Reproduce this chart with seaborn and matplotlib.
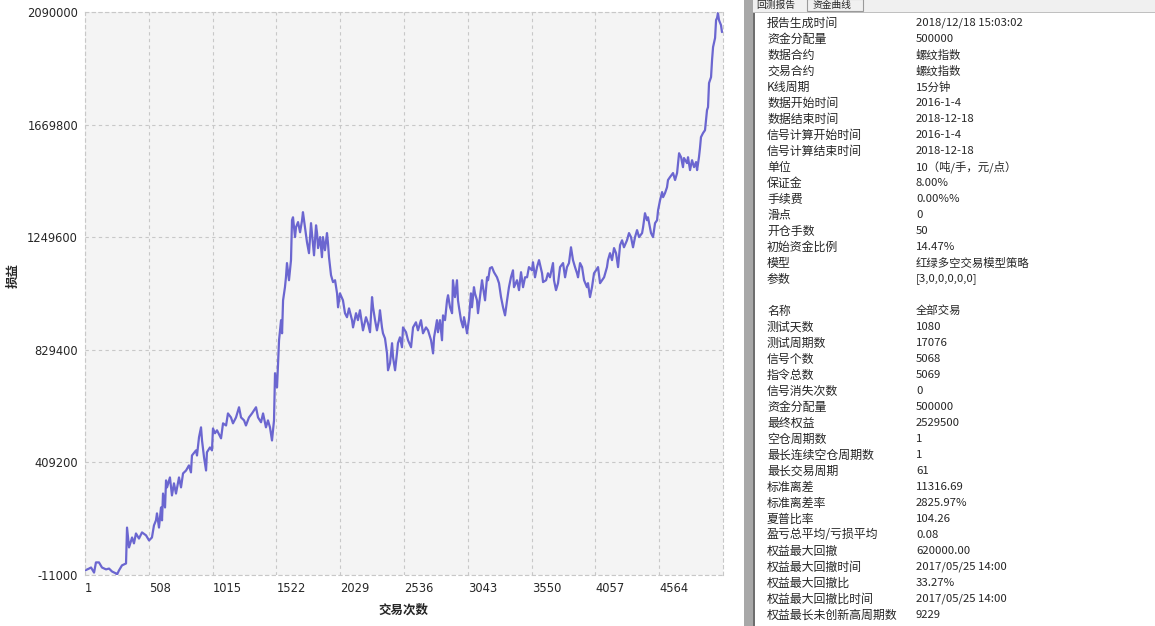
import numpy as np
import pandas as pd
import matplotlib
matplotlib.use("Agg")
import matplotlib.pyplot as plt
import seaborn as sns
from matplotlib.patches import Rectangle

# equity curve (trade index, equity)
trade_no = [
    1, 33, 49, 73, 88, 112, 136, 168, 192, 216, 247, 255, 271, 295, 327, 335, 351, 375, 390, 406,
    430, 454, 486, 510, 533, 549, 565, 573, 589, 605, 613, 621, 637, 645, 653, 676, 692, 708, 724, 748,
    764, 780, 804, 827, 843, 851, 883, 891, 907, 923, 931, 947, 963, 970, 994, 1010, 1018, 1034, 1050, 1082,
    1098, 1122, 1137, 1161, 1177, 1201, 1225, 1241, 1265, 1280, 1304, 1328, 1360, 1376, 1400, 1416, 1439, 1455, 1471, 1487,
    1503, 1511, 1527, 1535, 1543, 1559, 1567, 1575, 1590, 1598, 1606, 1622, 1638, 1646, 1654, 1670, 1678, 1694, 1710, 1726,
    1733, 1749, 1765, 1781, 1797, 1813, 1821, 1837, 1845, 1853, 1869, 1884, 1892, 1908, 1924, 1932, 1940, 1956, 1972, 1988,
    2004, 2012, 2027, 2051, 2067, 2083, 2099, 2123, 2131, 2155, 2170, 2186, 2202, 2210, 2234, 2250, 2266, 2282, 2290, 2306,
    2321, 2337, 2345, 2361, 2369, 2385, 2401, 2409, 2425, 2441, 2449, 2465, 2480, 2488, 2504, 2520, 2528, 2552, 2568, 2592,
    2608, 2631, 2647, 2671, 2687, 2711, 2727, 2751, 2767, 2775, 2798, 2806, 2822, 2838, 2846, 2862, 2878, 2886, 2902, 2918,
    2925, 2941, 2957, 2965, 2973, 2989, 3005, 3013, 3029, 3037, 3053, 3068, 3076, 3092, 3100, 3116, 3124, 3140, 3156, 3164,
    3180, 3196, 3204, 3219, 3235, 3251, 3275, 3291, 3307, 3323, 3339, 3355, 3370, 3386, 3402, 3410, 3434, 3450, 3466, 3482,
    3498, 3514, 3529, 3553, 3561, 3577, 3593, 3609, 3633, 3641, 3665, 3680, 3696, 3720, 3728, 3744, 3760, 3776, 3800, 3816,
    3831, 3847, 3863, 3879, 3895, 3911, 3919, 3935, 3951, 3967, 3990, 3998, 4014, 4030, 4046, 4062, 4078, 4094, 4110, 4126,
    4149, 4157, 4173, 4189, 4205, 4221, 4237, 4253, 4269, 4284, 4308, 4324, 4340, 4356, 4372, 4388, 4404, 4428, 4436, 4451,
    4467, 4475, 4499, 4515, 4531, 4547, 4555, 4571, 4587, 4595, 4610, 4626, 4634, 4650, 4674, 4690, 4706, 4722, 4738, 4753,
    4761, 4785, 4793, 4809, 4825, 4841, 4857, 4865, 4880, 4888, 4896, 4912, 4928, 4944, 4952, 4960, 4976, 4984, 4992, 5008,
    5016, 5024, 5031, 5039, 5055, 5063,
]
equity = [
    6000, 13000, 17000, -2000, 36000, 36000, 17000, 10000, 13000, 2000, -5000, -10000, 6000, 25000, 32000, 166000, 92000, 129000, 107000, 144000,
    125000, 148000, 137000, 118000, 129000, 174000, 193000, 219000, 166000, 241000, 193000, 293000, 241000, 342000, 316000, 353000, 286000, 331000, 293000, 353000,
    316000, 368000, 379000, 398000, 372000, 435000, 454000, 435000, 503000, 540000, 491000, 428000, 379000, 447000, 465000, 454000, 536000, 518000, 529000, 499000,
    555000, 547000, 592000, 577000, 555000, 577000, 615000, 577000, 566000, 547000, 577000, 592000, 615000, 577000, 559000, 592000, 540000, 566000, 540000, 491000,
    566000, 742000, 689000, 779000, 865000, 940000, 891000, 1014000, 1063000, 1100000, 1153000, 1089000, 1164000, 1313000, 1324000, 1250000, 1287000, 1306000, 1268000, 1313000,
    1343000, 1287000, 1231000, 1190000, 1302000, 1220000, 1182000, 1294000, 1265000, 1209000, 1250000, 1175000, 1250000, 1201000, 1265000, 1227000, 1175000, 1108000, 1082000, 1089000,
    1040000, 988000, 1040000, 1014000, 966000, 951000, 984000, 940000, 913000, 966000, 940000, 977000, 928000, 902000, 951000, 928000, 895000, 1026000, 988000, 940000,
    902000, 940000, 977000, 913000, 891000, 872000, 816000, 753000, 779000, 854000, 801000, 753000, 816000, 854000, 876000, 839000, 913000, 895000, 865000, 839000,
    913000, 932000, 902000, 940000, 891000, 913000, 902000, 865000, 816000, 876000, 940000, 895000, 940000, 865000, 958000, 940000, 1014000, 1033000, 988000, 966000,
    1089000, 1026000, 1089000, 1014000, 988000, 940000, 913000, 951000, 913000, 891000, 947000, 1040000, 988000, 1063000, 1040000, 1014000, 966000, 1026000, 1089000, 1063000,
    1014000, 1100000, 1089000, 1134000, 1138000, 1119000, 1100000, 1078000, 1026000, 988000, 958000, 1014000, 1063000, 1100000, 1126000, 1063000, 1089000, 1052000, 1119000, 1063000,
    1100000, 1100000, 1138000, 1126000, 1156000, 1100000, 1138000, 1164000, 1115000, 1082000, 1089000, 1115000, 1100000, 1153000, 1089000, 1052000, 1078000, 1138000, 1153000, 1100000,
    1138000, 1153000, 1212000, 1164000, 1138000, 1115000, 1100000, 1153000, 1138000, 1089000, 1063000, 1078000, 1026000, 1063000, 1115000, 1126000, 1138000, 1078000, 1089000, 1100000,
    1138000, 1164000, 1190000, 1164000, 1209000, 1190000, 1138000, 1220000, 1238000, 1212000, 1238000, 1265000, 1250000, 1212000, 1250000, 1276000, 1250000, 1265000, 1287000, 1339000,
    1313000, 1324000, 1265000, 1250000, 1302000, 1313000, 1350000, 1388000, 1418000, 1399000, 1414000, 1436000, 1463000, 1474000, 1489000, 1463000, 1489000, 1563000, 1548000, 1511000,
    1545000, 1526000, 1548000, 1500000, 1537000, 1511000, 1530000, 1500000, 1548000, 1582000, 1623000, 1638000, 1649000, 1724000, 1735000, 1825000, 1847000, 1911000, 1959000, 1993000,
    2060000, 2068000, 2086000, 2060000, 2041000, 2015000,
]

x_ticks = [1, 508, 1015, 1522, 2029, 2536, 3043, 3550, 4057, 4564]
y_ticks = [-11000, 409200, 829400, 1249600, 1669800, 2090000]

tab_names = ["回测报告", "资金曲线"]

report_labels = [
    "报告生成时间", "资金分配量", "数据合约", "交易合约", "K线周期", "数据开始时间", "数据结束时间",
    "信号计算开始时间", "信号计算结束时间", "单位", "保证金", "手续费", "滑点", "开仓手数",
    "初始资金比例", "模型", "参数", "",
    "名称", "测试天数", "测试周期数", "信号个数", "指令总数", "信号消失次数", "资金分配量",
    "最终权益", "空仓周期数", "最长连续空仓周期数", "最长交易周期", "标准离差", "标准离差率",
    "夏普比率", "盈亏总平均/亏损平均", "权益最大回撤", "权益最大回撤时间", "权益最大回撤比",
    "权益最大回撤比时间", "权益最长未创新高周期数",
]
report_values = [
    "2018/12/18 15:03:02", "500000", "螺纹指数", "螺纹指数", "15分钟", "2016-1-4", "2018-12-18",
    "2016-1-4", "2018-12-18", "10（吨/手，元/点）", "8.00%", "0.00%%", "0", "50",
    "14.47%", "红绿多空交易模型策略", "[3,0,0,0,0,0]", "",
    "全部交易", "1080", "17076", "5068", "5069", "0", "500000",
    "2529500", "1", "1", "61", "11316.69", "2825.97%",
    "104.26", "0.08", "620000.00", "2017/05/25 14:00", "33.27%",
    "2017/05/25 14:00", "9229",
]

sns.set_style("white")
plt.rcParams['font.family'] = ['Noto Sans CJK SC', 'DejaVu Sans']

W, H = 1155, 626
fig = plt.figure(figsize=(W / 100, H / 100), dpi=100)
ax = fig.add_axes([85 / W, 1 - 575 / H, (723 - 85) / W, (575 - 12) / H])
ax.set_facecolor("#f4f4f4")

df = pd.DataFrame({"trade": trade_no, "equity": equity})
sns.lineplot(data=df, x="trade", y="equity", ax=ax, color="#6b66d0",
             linewidth=1.6, estimator=None, sort=False)

ax.set_xlim(1, 5071)
ax.set_ylim(-11000, 2090000)
ax.set_xticks(x_ticks)
ax.set_yticks(y_ticks)
ax.set_xticklabels([str(t) for t in x_ticks], ha="left", fontsize=8.3, family="DejaVu Sans")
ax.set_yticklabels([str(t) for t in y_ticks], fontsize=8.3, family="DejaVu Sans")
ax.tick_params(length=0, pad=5)
ax.grid(True, color="#c8c8c8", linestyle=(0, (3, 3)), linewidth=0.8)
for sp in ax.spines.values():
    sp.set_color("#c8c8c8")
    sp.set_linestyle((0, (3, 3)))
    sp.set_linewidth(0.8)
ax.set_xlabel("")
ax.set_ylabel("")

fig.text(403 / W, 1 - 610 / H, "交易次数", ha="center", va="center",
         fontsize=9, fontweight="bold")
fig.text(13 / W, 1 - 275 / H, "损益", ha="center", va="center",
         fontsize=9, fontweight="bold", rotation=90)

# report panel on the right
fig.patches.append(Rectangle((744 / W, 0), 9 / W, 1, transform=fig.transFigure,
                             facecolor="#a8a8a8", edgecolor="none"))
fig.patches.append(Rectangle((753 / W, 0), 2 / W, 1 - 12 / H, transform=fig.transFigure,
                             facecolor="#6e6e6e", edgecolor="none"))
fig.patches.append(Rectangle((753 / W, 1 - 12 / H), 402 / W, 12 / H, transform=fig.transFigure,
                             facecolor="#f0f0f0", edgecolor="none"))
fig.patches.append(Rectangle((753 / W, 1 - 13 / H), 402 / W, 1 / H, transform=fig.transFigure,
                             facecolor="#c0c0c0", edgecolor="none"))
fig.patches.append(Rectangle((807 / W, 1 - 11 / H), 56 / W, 12 / H, transform=fig.transFigure,
                             facecolor="#f0f0f0", edgecolor="#9a9a9a", linewidth=0.8))
fig.text(756 / W, 1 - 5 / H, tab_names[0], ha="left", va="center", fontsize=7)
fig.text(813 / W, 1 - 5 / H, tab_names[1], ha="left", va="center", fontsize=7)

for i, (lab, val) in enumerate(zip(report_labels, report_values)):
    y = 1 - (23 + 16 * i) / H
    fig.text(767 / W, y, lab, ha="left", va="center", fontsize=8.6)
    fig.text(916 / W, y, val, ha="left", va="center", fontsize=8.2)

fig.savefig("out.png", dpi=100)
